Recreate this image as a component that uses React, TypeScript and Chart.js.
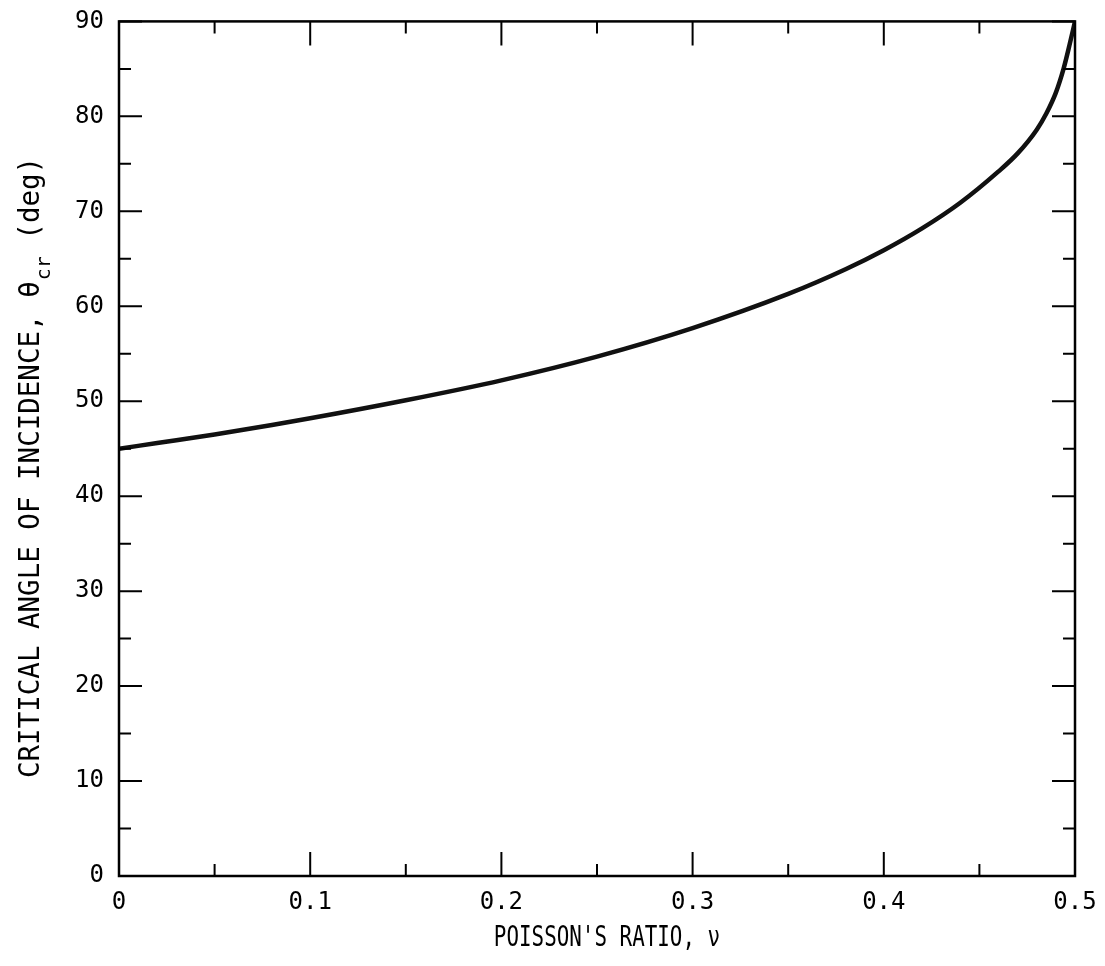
import React, { useEffect, useRef } from 'react';
import { Chart, registerables } from 'chart.js';

Chart.register(...registerables);

// Poisson's ratio (x) and critical angle of incidence in degrees (y)
const poissonRatio = [0, 0.02, 0.05, 0.08, 0.1, 0.15, 0.2, 0.25, 0.3, 0.35, 0.38, 0.4, 0.42, 0.44, 0.46, 0.47, 0.48, 0.485, 0.49, 0.494, 0.497, 0.5];
const criticalAngle = [45.0, 45.6, 46.5, 47.5, 48.2, 50.1, 52.2, 54.7, 57.7, 61.3, 63.9, 65.9, 68.2, 70.9, 74.2, 76.1, 78.6, 80.3, 82.5, 85.0, 87.4, 90.0];

const xRange = [0, 0.5];
const yRange = [0, 90];
const xMinorStep = 0.05;
const yMinorStep = 5;
const xMajorStep = 0.1;
const yMajorStep = 10;

const xTitle = "POISSON'S RATIO, \u03bd";
const yTitleMain = 'CRITICAL ANGLE OF INCIDENCE, \u03b8';
const yTitleSub = 'cr';
const yTitleTail = ' (deg)';

const FONT = '"DejaVu Sans Mono", "Liberation Mono", monospace';

const isMajor = (v: number, step: number) => Math.abs(v / step - Math.round(v / step)) < 1e-6;

const frameTicks = {
  id: 'frameTicks',
  afterDatasetsDraw(chart: any) {
    const { ctx, chartArea } = chart;
    const { left, right, top, bottom } = chartArea;
    const xs = chart.scales.x;
    const ys = chart.scales.y;
    ctx.save();
    ctx.strokeStyle = '#000';
    ctx.lineWidth = 2.5;
    ctx.strokeRect(left, top, right - left, bottom - top);
    ctx.lineWidth = 2;
    ctx.beginPath();
    xs.ticks.forEach((t: any) => {
      const px = xs.getPixelForValue(t.value);
      const major = isMajor(t.value, xMajorStep);
      ctx.moveTo(px, bottom);
      ctx.lineTo(px, bottom - (major ? 24 : 12));
      ctx.moveTo(px, top);
      ctx.lineTo(px, top + (major ? 24 : 12));
    });
    ys.ticks.forEach((t: any) => {
      const py = ys.getPixelForValue(t.value);
      const major = isMajor(t.value, yMajorStep);
      ctx.moveTo(left, py);
      ctx.lineTo(left + (major ? 23 : 12), py);
      ctx.moveTo(right, py);
      ctx.lineTo(right - (major ? 23 : 12), py);
    });
    ctx.stroke();
    ctx.restore();
  },
};

const titlesPlugin = {
  id: 'titlesPlugin',
  afterDraw(chart: any) {
    const { ctx, chartArea } = chart;
    ctx.save();
    ctx.fillStyle = '#000';
    // x-axis title (condensed typewriter look)
    ctx.save();
    ctx.translate((chartArea.left + chartArea.right) / 2 + 10, 938);
    ctx.scale(0.72, 1);
    ctx.font = `29px ${FONT}`;
    ctx.textAlign = 'center';
    ctx.textBaseline = 'middle';
    ctx.fillText(xTitle, 0, 0);
    ctx.restore();
    // y-axis title with subscript
    ctx.save();
    ctx.translate(32, chartArea.bottom - 98);
    ctx.rotate(-Math.PI / 2);
    ctx.textBaseline = 'middle';
    ctx.textAlign = 'left';
    ctx.font = `27.5px ${FONT}`;
    let x = 0;
    ctx.fillText(yTitleMain, x, 0);
    x += ctx.measureText(yTitleMain).width;
    ctx.font = `20px ${FONT}`;
    ctx.fillText(yTitleSub, x + 1, 13);
    x += ctx.measureText(yTitleSub).width + 1;
    ctx.font = `27.5px ${FONT}`;
    ctx.fillText(yTitleTail, x, 0);
    ctx.restore();
    ctx.restore();
  },
};

export default function App() {
  const canvasRef = useRef<HTMLCanvasElement | null>(null);

  useEffect(() => {
    document.body.style.margin = '0';
    const canvas = canvasRef.current;
    if (!canvas) return;
    Chart.defaults.color = '#000';
    const points = poissonRatio.map((v, i) => ({ x: v, y: criticalAngle[i] }));
    const chart = new Chart(canvas, {
      type: 'line',
      data: {
        datasets: [
          {
            data: points,
            borderColor: '#111',
            borderWidth: 4.5,
            pointRadius: 0,
            cubicInterpolationMode: 'monotone',
            fill: false,
          },
        ],
      },
      options: {
        animation: false,
        responsive: true,
        maintainAspectRatio: false,
        layout: { padding: { left: 0, top: 19, right: 30, bottom: 0 } },
        plugins: { legend: { display: false }, tooltip: { enabled: false } },
        scales: {
          x: {
            type: 'linear',
            min: xRange[0],
            max: xRange[1],
            grid: { display: false },
            border: { display: false },
            afterFit: (s: any) => {
              s.height = 90;
            },
            ticks: {
              stepSize: xMinorStep,
              autoSkip: false,
              maxRotation: 0,
              padding: 4,
              font: { family: FONT, size: 24 },
              color: '#000',
              callback: (v: any) => {
                const n = Number(v);
                if (!isMajor(n, xMajorStep)) return '';
                return n === 0 ? '0' : n.toFixed(1);
              },
            },
          },
          y: {
            type: 'linear',
            min: yRange[0],
            max: yRange[1],
            grid: { display: false },
            border: { display: false },
            afterFit: (s: any) => {
              s.width = 119;
            },
            ticks: {
              stepSize: yMinorStep,
              autoSkip: false,
              padding: 7,
              font: { family: FONT, size: 24 },
              color: '#000',
              callback: (v: any) => {
                const n = Number(v);
                return isMajor(n, yMajorStep) ? String(Math.round(n)) : '';
              },
            },
          },
        },
      },
      plugins: [frameTicks, titlesPlugin],
    } as any);
    return () => chart.destroy();
  }, []);

  return (
    <div style={{ width: 1105, height: 966, position: 'relative', background: '#fff' }}>
      <canvas ref={canvasRef} />
    </div>
  );
}
